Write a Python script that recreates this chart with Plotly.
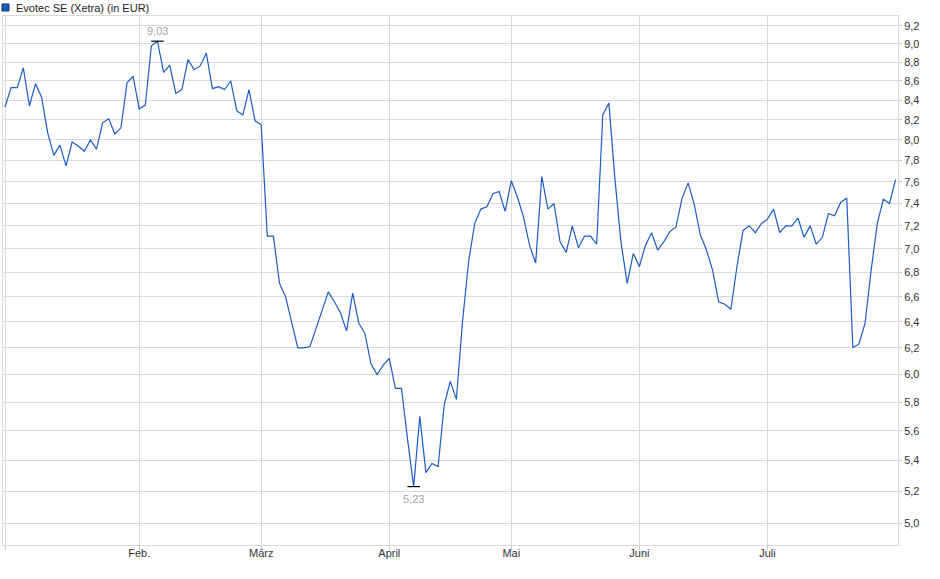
import math
import pandas as pd
import plotly.graph_objects as go

# Evotec SE (Xetra), Schlusskurse in EUR, Handelstage 02.01.2025 - 30.07.2025
holidays = ["2025-04-18", "2025-04-21", "2025-05-01"]
dates = pd.bdate_range("2025-01-02", "2025-07-30", freq="C", holidays=holidays)
dates = [d.strftime("%Y-%m-%d") for d in dates]

prices = [
    8.33, 8.53, 8.53, 8.74, 8.34, 8.57, 8.43, 8.07, 7.85, 7.95,
    7.75, 7.98, 7.94, 7.89, 8.00, 7.91, 8.17, 8.21, 8.06, 8.12,
    8.58, 8.65, 8.31, 8.35, 8.98, 9.03, 8.69, 8.77, 8.47, 8.51,
    8.83, 8.72, 8.76, 8.90, 8.52, 8.54, 8.51, 8.60, 8.29, 8.25,
    8.51, 8.19, 8.15, 7.11, 7.11, 6.71, 6.60, 6.39, 6.20, 6.20,
    6.21, 6.35, 6.49, 6.64, 6.56, 6.47, 6.33, 6.63, 6.39, 6.31,
    6.08, 6.00, 6.07, 6.12, 5.90, 5.90, 5.54, 5.23, 5.70, 5.32,
    5.38, 5.36, 5.78, 5.95, 5.82, 6.40, 6.89, 7.22, 7.35, 7.37,
    7.49, 7.51, 7.33, 7.61, 7.46, 7.28, 7.03, 6.88, 7.65, 7.35,
    7.40, 7.06, 6.97, 7.20, 7.01, 7.11, 7.11, 7.04, 8.25, 8.37,
    7.62, 7.05, 6.71, 6.96, 6.85, 7.03, 7.14, 6.99, 7.06, 7.15,
    7.19, 7.45, 7.59, 7.39, 7.12, 6.99, 6.82, 6.56, 6.54, 6.50,
    6.85, 7.16, 7.20, 7.14, 7.22, 7.26, 7.35, 7.14, 7.20, 7.20,
    7.27, 7.10, 7.20, 7.04, 7.10, 7.31, 7.29, 7.41, 7.45, 6.20,
    6.23, 6.39, 6.82, 7.22, 7.44, 7.40, 7.62,
]

month_labels = ["", "Feb.", "März", "April", "Mai", "Juni", "Juli"]
y_ticks = [5.0, 5.2, 5.4, 5.6, 5.8, 6.0, 6.2, 6.4, 6.6, 6.8, 7.0,
           7.2, 7.4, 7.6, 7.8, 8.0, 8.2, 8.4, 8.6, 8.8, 9.0, 9.2]

# first trading day of each month -> x ticks
month_ticks = []
for d in dates:
    if not month_ticks or d[:7] != month_ticks[-1][:7]:
        month_ticks.append(d)

i_max = prices.index(max(prices))
i_min = prices.index(min(prices))

line_col = "#1c5cc4"
grid_col = "#dadada"
fnt = "Liberation Sans, Arial, sans-serif"

fig = go.Figure()
fig.add_trace(go.Scatter(x=dates, y=prices, mode="lines",
                         line=dict(color=line_col, width=1.2),
                         showlegend=False, hoverinfo="x+y"))
# hi / lo markers
fig.add_trace(go.Scatter(x=[dates[i_max], dates[i_min]],
                         y=[prices[i_max], prices[i_min]],
                         mode="markers",
                         marker=dict(symbol="line-ew", size=9,
                                     line=dict(color="black", width=1.2)),
                         showlegend=False, hoverinfo="skip"))

def fmt(v):
    return ("%.2f" % v).replace(".", ",")

# log axis -> annotation y in log10 units
fig.add_annotation(x=dates[i_max], y=math.log10(prices[i_max]), xref="x", yref="y",
                   text=fmt(prices[i_max]), showarrow=False, yshift=10,
                   font=dict(family=fnt, size=11, color="#a3a3a3"))
fig.add_annotation(x=dates[i_min], y=math.log10(prices[i_min]), xref="x", yref="y",
                   text=fmt(prices[i_min]), showarrow=False, yshift=-12,
                   font=dict(family=fnt, size=11, color="#a3a3a3"))

# legend-like title at the top left
fig.add_shape(type="rect", xref="paper", yref="paper",
              x0=-0.0011, x1=0.0067, y0=1.0095, y1=1.0227,
              fillcolor=line_col, line=dict(color="#0d2f6e", width=1))
fig.add_annotation(x=0.0123, y=1.0151, xref="paper", yref="paper",
                   text="Evotec SE (Xetra) (in EUR)", showarrow=False,
                   xanchor="left", yanchor="middle",
                   font=dict(family=fnt, size=11, color="#222222"))

fig.update_layout(
    width=940, height=579, autosize=False,
    margin=dict(l=3, r=42, t=16, b=34),
    plot_bgcolor="white", paper_bgcolor="white",
    font=dict(family=fnt, size=11, color="#333333"),
    xaxis=dict(type="category", range=[-0.33, 146.4],
               tickvals=month_ticks, ticktext=month_labels,
               showgrid=True, gridcolor=grid_col, gridwidth=1,
               ticks="outside", ticklen=4, tickcolor="#c8c8c8",
               ticklabelstandoff=-6,
               showline=True, linecolor=grid_col, mirror=True,
               tickfont=dict(size=11, color="#333333"),
               zeroline=False),
    yaxis=dict(type="log", side="right",
               range=[0.6874, 0.9691],
               tickvals=y_ticks,
               ticktext=[("%.1f" % v).replace(".", ",") for v in y_ticks],
               showgrid=True, gridcolor=grid_col, gridwidth=1,
               ticks="outside", ticklen=3, tickcolor="#c8c8c8",
               showline=True, linecolor=grid_col, mirror=True,
               tickfont=dict(size=11, color="#333333"),
               zeroline=False),
)

fig.write_html("out.html", config={"displayModeBar": False},
               post_script="document.body.style.margin='0';")
